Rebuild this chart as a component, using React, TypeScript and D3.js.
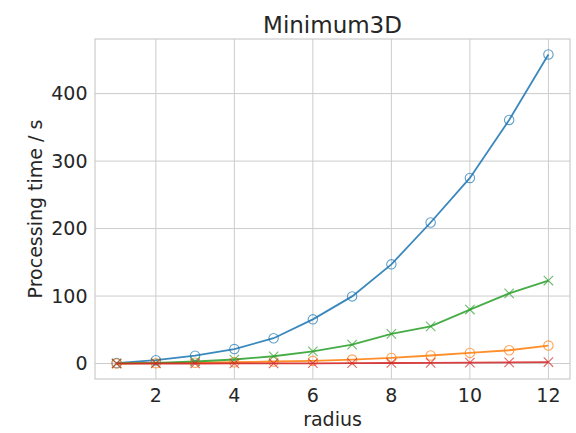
import React, { useRef, useEffect } from "react";
import * as d3 from "d3";

const radius = [1, 2, 3, 4, 5, 6, 7, 8, 9, 10, 11, 12];
const blueTimes = [0.7, 5, 11.6, 21.5, 37.5, 65.5, 99.5, 147, 209, 275, 361, 458];
const orangeTimes = [0.1, 0.5, 1.2, 1.9, 3, 4, 5.9, 8.4, 11.9, 15.8, 19.7, 26.7];
const greenTimes = [0.3, 1, 3, 6, 10.8, 18, 28, 44, 55, 80, 104, 123];
const redTimes = [0, 0.05, 0.1, 0.2, 0.3, 0.4, 0.6, 0.8, 1.0, 1.3, 1.7, 2.2];
const xTicks = [2, 4, 6, 8, 10, 12];
const yTicks = [0, 100, 200, 300, 400];

const series = [
  { values: blueTimes, color: "#1f77b4", marker: "o" },
  { values: orangeTimes, color: "#ff7f0e", marker: "o" },
  { values: greenTimes, color: "#2ca02c", marker: "x" },
  { values: redTimes, color: "#d62728", marker: "x" },
];

function App() {
  const svgRef = useRef<SVGSVGElement>(null);

  useEffect(() => {
    if (!svgRef.current) return;
    const svg = d3.select(svgRef.current);
    svg.selectAll("*").remove();
    const width = 576;
    const height = 433;
    const left = 95, right = 570, top = 39, bottom = 379;
    const font = "'DejaVu Sans', sans-serif";
    const textColor = "#262626";
    const gridColor = "#cccccc";

    // matplotlib style 5% margins
    const xMin = 1, xMax = 12;
    const xPad = (xMax - xMin) * 0.05;
    const x = d3.scaleLinear().domain([xMin - xPad, xMax + xPad]).range([left, right]);
    const yMax = d3.max(blueTimes) || 1;
    const yPad = yMax * 0.05;
    const y = d3.scaleLinear().domain([-yPad, yMax + yPad]).range([bottom, top]);

    svg.attr("width", width).attr("height", height);

    // grid
    const grid = svg.append("g");
    grid
      .selectAll("line.gx")
      .data(xTicks)
      .enter()
      .append("line")
      .attr("x1", (d) => x(d))
      .attr("x2", (d) => x(d))
      .attr("y1", top)
      .attr("y2", bottom)
      .attr("stroke", gridColor)
      .attr("stroke-width", 1);
    grid
      .selectAll("line.gy")
      .data(yTicks)
      .enter()
      .append("line")
      .attr("x1", left)
      .attr("x2", right)
      .attr("y1", (d) => y(d))
      .attr("y2", (d) => y(d))
      .attr("stroke", gridColor)
      .attr("stroke-width", 1);

    // spines
    svg
      .append("rect")
      .attr("x", left)
      .attr("y", top)
      .attr("width", right - left)
      .attr("height", bottom - top)
      .attr("fill", "none")
      .attr("stroke", gridColor)
      .attr("stroke-width", 1.2);

    // tick labels
    svg
      .selectAll("text.xt")
      .data(xTicks)
      .enter()
      .append("text")
      .attr("x", (d) => x(d))
      .attr("y", 401.5)
      .attr("text-anchor", "middle")
      .attr("font-family", font)
      .attr("font-size", 19)
      .attr("fill", textColor)
      .text((d) => d);
    svg
      .selectAll("text.yt")
      .data(yTicks)
      .enter()
      .append("text")
      .attr("x", 87.5)
      .attr("y", (d) => y(d))
      .attr("dy", "0.36em")
      .attr("text-anchor", "end")
      .attr("font-family", font)
      .attr("font-size", 19)
      .attr("fill", textColor)
      .text((d) => d);

    // axis labels and title
    svg
      .append("text")
      .attr("x", (left + right) / 2)
      .attr("y", 425.5)
      .attr("text-anchor", "middle")
      .attr("font-family", font)
      .attr("font-size", 19)
      .attr("fill", textColor)
      .text("radius");
    svg
      .append("text")
      .attr("transform", `translate(42,${(top + bottom) / 2}) rotate(-90)`)
      .attr("text-anchor", "middle")
      .attr("font-family", font)
      .attr("font-size", 19)
      .attr("fill", textColor)
      .text("Processing time / s");
    svg
      .append("text")
      .attr("x", (left + right) / 2)
      .attr("y", 33)
      .attr("text-anchor", "middle")
      .attr("font-family", font)
      .attr("font-size", 23)
      .attr("fill", textColor)
      .text("Minimum3D");

    // lines and markers
    const line = d3
      .line<number>()
      .x((_, i) => x(radius[i]))
      .y((d) => y(d));

    series.forEach((s) => {
      const g = svg.append("g");
      g.append("path")
        .attr("d", line(s.values) || "")
        .attr("fill", "none")
        .attr("stroke", s.color)
        .attr("stroke-opacity", 0.88)
        .attr("stroke-width", 1.8);
      if (s.marker === "o") {
        g.selectAll("circle")
          .data(s.values)
          .enter()
          .append("circle")
          .attr("cx", (_, i) => x(radius[i]))
          .attr("cy", (d) => y(d))
          .attr("r", 4.7)
          .attr("fill", "none")
          .attr("stroke", s.color)
          .attr("stroke-opacity", 0.7)
          .attr("stroke-width", 1.1);
      } else {
        const m = 4.7;
        g.selectAll("path.x")
          .data(s.values)
          .enter()
          .append("path")
          .attr("d", (d, i) => {
            const cx = x(radius[i]);
            const cy = y(d);
            return `M${cx - m},${cy - m}L${cx + m},${cy + m}M${cx - m},${cy + m}L${cx + m},${cy - m}`;
          })
          .attr("fill", "none")
          .attr("stroke", s.color)
          .attr("stroke-opacity", 0.7)
          .attr("stroke-width", 1.1);
      }
    });
  }, []);

  return (
    <svg
      ref={svgRef}
      style={{ position: "absolute", left: 0, top: 0, display: "block" }}
    ></svg>
  );
}

export default App;
